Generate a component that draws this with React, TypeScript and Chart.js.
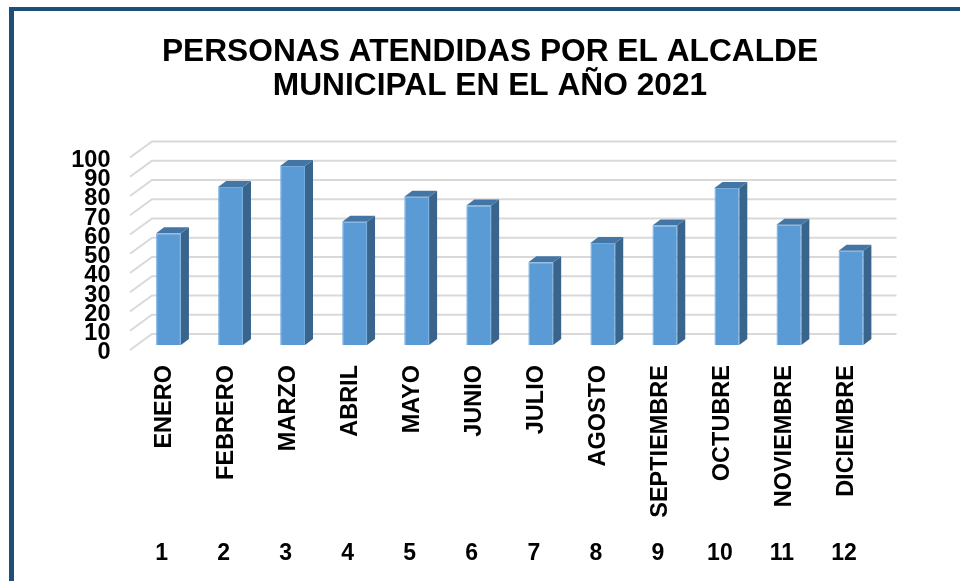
import React, { useEffect, useRef } from "react";
import { Chart, registerables } from "chart.js";

Chart.register(...registerables);

const titleLines = ["PERSONAS ATENDIDAS POR EL ALCALDE", "MUNICIPAL EN EL AÑO 2021"];
const months = ["ENERO", "FEBRERO", "MARZO", "ABRIL", "MAYO", "JUNIO", "JULIO", "AGOSTO", "SEPTIEMBRE", "OCTUBRE", "NOVIEMBRE", "DICIEMBRE"];
const monthNumbers = ["1", "2", "3", "4", "5", "6", "7", "8", "9", "10", "11", "12"];
const attended = [58, 82, 93, 64, 77, 72.5, 43, 53, 62, 81.5, 62.5, 49];

const FONT = '"Liberation Sans", Arial, sans-serif';
const BAR_DX = 8;
const BAR_DY = -6;

const faux3d = {
  id: "faux3d",
  beforeDatasetsDraw(chart: any) {
    const { ctx, chartArea, scales } = chart;
    const y = scales.y;
    ctx.save();
    ctx.strokeStyle = "#d9d9d9";
    ctx.lineWidth = 2;
    y.ticks.forEach((t: any) => {
      const py = y.getPixelForValue(t.value);
      ctx.beginPath();
      ctx.moveTo(chartArea.left - 7.5, py + 5);
      ctx.lineTo(chartArea.left + 14.5, py - 11);
      ctx.lineTo(chartArea.right + 14.5, py - 11);
      ctx.stroke();
    });
    const meta = chart.getDatasetMeta(0);
    meta.data.forEach((bar: any) => {
      const l = bar.x - bar.width / 2;
      const r = bar.x + bar.width / 2;
      const top = bar.y;
      const bottom = bar.base;
      ctx.fillStyle = "#39648c";
      ctx.beginPath();
      ctx.moveTo(r, top);
      ctx.lineTo(r + BAR_DX, top + BAR_DY);
      ctx.lineTo(r + BAR_DX, bottom + BAR_DY);
      ctx.lineTo(r, bottom);
      ctx.closePath();
      ctx.fill();
      ctx.fillStyle = "#4476a5";
      ctx.beginPath();
      ctx.moveTo(l, top);
      ctx.lineTo(l + BAR_DX, top + BAR_DY);
      ctx.lineTo(r + BAR_DX, top + BAR_DY);
      ctx.lineTo(r, top);
      ctx.closePath();
      ctx.fill();
    });
    ctx.restore();
  },
};

export default function App() {
  const ref = useRef<HTMLCanvasElement>(null);
  useEffect(() => {
    const chart = new Chart(ref.current!, {
      type: "bar",
      plugins: [faux3d],
      data: {
        labels: months,
        datasets: [
          {
            data: attended,
            backgroundColor: "#5b9bd5",
            borderColor: "#74abde",
            borderWidth: 1,
            barPercentage: 0.4,
            categoryPercentage: 1,
            xAxisID: "x",
            yAxisID: "y",
          },
        ],
      },
      options: {
        animation: false,
        responsive: false,
        layout: { padding: { left: 20, right: 0, top: 0, bottom: 0 } },
        plugins: {
          legend: { display: false },
          tooltip: { enabled: false },
          title: {
            display: true,
            text: titleLines,
            color: "#000000",
            font: { family: FONT, size: 31.7, weight: "bold", lineHeight: 1.07 },
            padding: { top: 35, bottom: 49.6 },
          },
        },
        scales: {
          x: {
            position: "bottom",
            grid: { display: false, drawTicks: false },
            border: { display: false },
            afterFit: (s: any) => {
              s.height = 190;
            },
            ticks: {
              autoSkip: false,
              minRotation: 90,
              maxRotation: 90,
              padding: 20,
              labelOffset: -4.5,
              color: "#000000",
              font: { family: FONT, size: 23.5, weight: "bold" },
            },
          },
          x2: {
            type: "category",
            position: "bottom",
            labels: monthNumbers,
            grid: { display: false, drawTicks: false },
            border: { display: false },
            afterFit: (s: any) => {
              s.height = 46;
            },
            ticks: {
              autoSkip: false,
              maxRotation: 0,
              padding: 5,
              labelOffset: -7,
              color: "#000000",
              font: { family: FONT, size: 23, weight: "bold" },
            },
          },
          y: {
            min: 0,
            max: 100,
            position: "left",
            grid: { display: false, drawTicks: false },
            border: { display: false },
            afterFit: (s: any) => {
              s.width = 117.5;
            },
            ticks: {
              stepSize: 10,
              autoSkip: false,
              padding: 27,
              labelOffset: 8,
              color: "#000000",
              font: { family: FONT, size: 23.5, weight: "bold" },
            },
          },
          yRight: {
            position: "right",
            min: 0,
            max: 100,
            grid: { display: false, drawTicks: false },
            border: { display: false },
            ticks: { display: false },
            afterFit: (s: any) => {
              s.width = 78;
            },
          },
        },
      },
    } as any);
    return () => chart.destroy();
  }, []);
  return (
    <div style={{ position: "absolute", left: 0, top: 0, width: 960, height: 581, overflow: "hidden", background: "#ffffff" }}>
      <div
        style={{
          position: "absolute",
          left: 9,
          top: 7,
          width: 960,
          height: 600,
          borderTop: "4px solid #1f4e79",
          borderLeft: "5px solid #1f4e79",
        }}
      />
      <canvas ref={ref} width={960} height={581} style={{ position: "absolute", left: 0, top: 0, display: "block" }} />
    </div>
  );
}
